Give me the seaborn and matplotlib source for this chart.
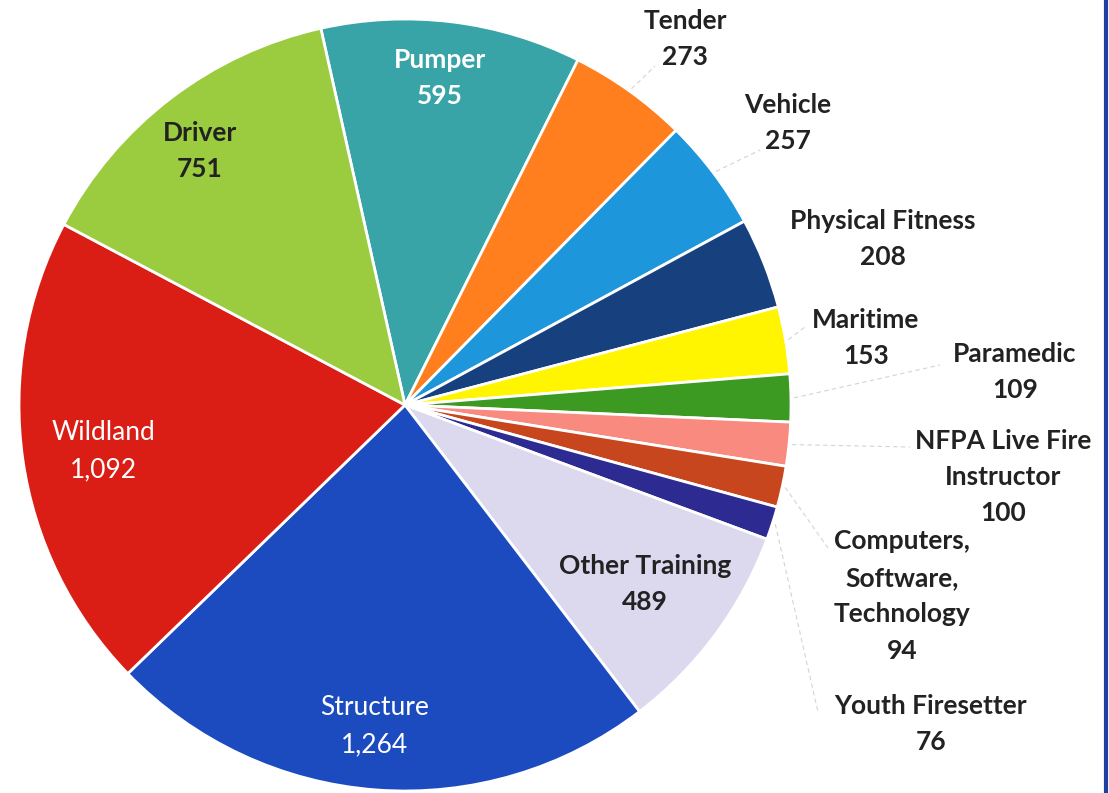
import numpy as np
import matplotlib.pyplot as plt
import seaborn as sns

sns.set_theme(style="white")
plt.rcParams["font.family"] = ["Lato", "DejaVu Sans"]

# data, clockwise starting at Pumper
categories = ["Pumper", "Tender", "Vehicle", "Physical Fitness", "Maritime",
              "Paramedic", "NFPA Live Fire\nInstructor", "Computers,\nSoftware,\nTechnology",
              "Youth Firesetter", "Other Training", "Structure", "Wildland", "Driver"]
values = [595, 273, 257, 208, 153, 109, 100, 94, 76, 489, 1264, 1092, 751]
value_labels = ["595", "273", "257", "208", "153", "109", "100", "94", "76",
                "489", "1,264", "1,092", "751"]

colors = ["#38A4A8", "#FF7F1F", "#1E96DC", "#17407F", "#FFF500", "#3C9A22",
          "#F88A80", "#C8461E", "#2D2A92", "#DCD8EE", "#1C4BC0", "#DA1E16", "#9BCB3E"]

# label layout (pixel coords of text centre)
label_xy = [(440, 78), (685, 39), (788, 123), (883, 239), (866, 338), (1015, 372),
            (1003, 477), (902, 596), (931, 724), (645, 584), (375, 726), (103, 451), (200, 151)]
text_col = ["white", "#222222", "#222222", "#222222", "#222222", "#222222", "#222222",
            "#222222", "#222222", "#222222", "white", "white", "#222222"]
bold = [True, True, True, True, True, True, True, True, True, True, False, False, True]
# leader-line end points near the outside labels
leader_end = [None, (655, 66), (760, 150), None, (805, 327), (940, 365),
              (910, 447), (828, 548), (818, 712), None, None, None, None]

W, H = 1109, 793
cx, cy, r = 405, 405, 386

fig = plt.figure(figsize=(W / 100, H / 100), dpi=100)
ax = fig.add_axes([0, 0, 1, 1])

wedges, _ = ax.pie(values, colors=colors, startangle=102.6, counterclock=False,
                   center=(cx, H - cy), radius=r, frame=True,
                   wedgeprops=dict(edgecolor="white", linewidth=2))
ax.set_xlim(0, W)
ax.set_ylim(0, H)
ax.axis("off")

for i, w in enumerate(wedges):
    x, y = label_xy[i]
    ax.text(x, H - y, f"{categories[i]}\n{value_labels[i]}", ha="center", va="center",
            fontsize=19, color=text_col[i], fontweight="bold" if bold[i] else "normal",
            linespacing=1.62)
    if leader_end[i] is not None:
        mid = np.deg2rad((w.theta1 + w.theta2) / 2)
        x0 = cx + (r + 3) * np.cos(mid)
        y0 = (H - cy) + (r + 3) * np.sin(mid)
        ex, ey = leader_end[i]
        ax.plot([x0, ex], [y0, H - ey], color="#d4d4d4", lw=0.8, ls=(0, (4, 3)))

# blue border at the right edge
ax.plot([W - 3, W - 3], [0, H], color="#2040A0", lw=3)

fig.savefig("out.png", dpi=100)
